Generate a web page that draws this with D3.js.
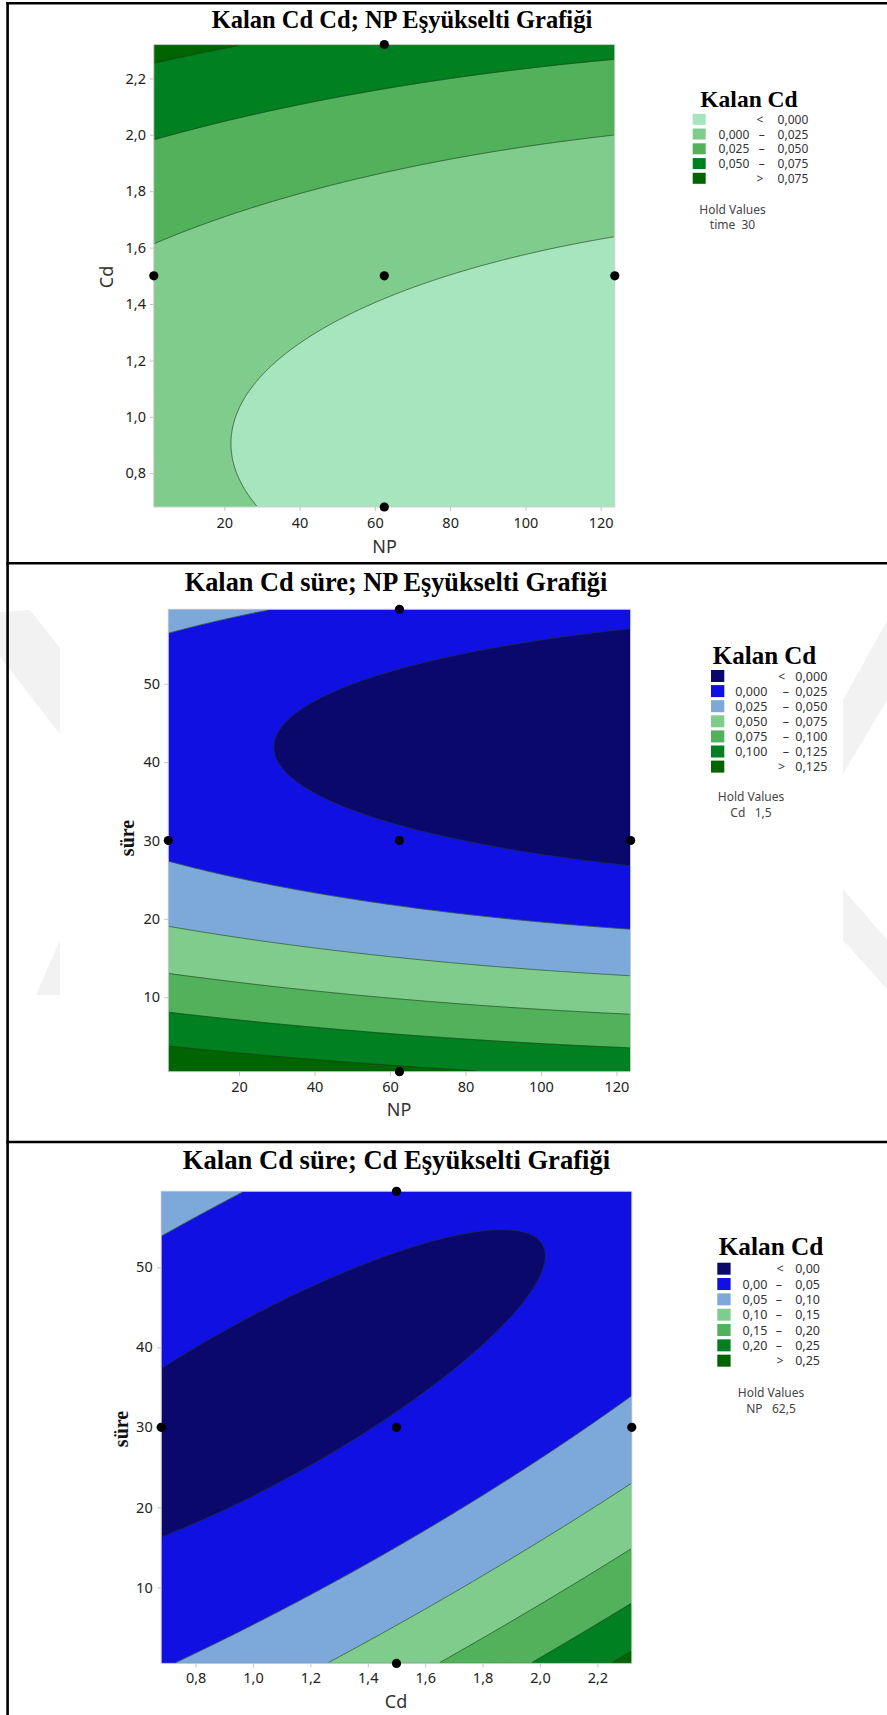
<!DOCTYPE html>
<html><head><meta charset="utf-8">
<script src="https://cdn.jsdelivr.net/npm/d3@7"></script>
<style>body{margin:0;background:#fff} svg{display:block}</style>
</head><body>
<svg id="c" width="887" height="1715"></svg>
<script>
// ---------- DATA ----------
// Fitted quadratic response-surface model for "Kalan Cd" (coded factors, -1..+1)
const factorNames      = ["NP", "Cd", "süre"];
const factorCenters    = [62.5, 1.5, 30];
const factorHalfRanges = [61.25, 0.82, 29.5];
const modelTerms = ["sabit", "NP", "Cd", "süre", "NP²", "Cd²", "süre²", "NP·Cd", "NP·süre", "Cd·süre"];
const modelCoefs = [0.0034, -0.0132, 0.037, -0.0565, 0.0028, 0.0255, 0.070, 0.0, 0.0, -0.0716];

const npDomain   = [1.25, 123.75];
const cdDomain   = [0.68, 2.32];
const sureDomain = [0.5, 59.5];

const npTicks   = [20, 40, 60, 80, 100, 120];
const cdTicks   = [0.8, 1.0, 1.2, 1.4, 1.6, 1.8, 2.0, 2.2];
const sureTicks = [10, 20, 30, 40, 50];

const levels1 = [0, 0.025, 0.05, 0.075];
const colors1 = ["#a6e5bd", "#80cc8c", "#52b15b", "#008020", "#006400"];
const labels1 = [["", "<", "0,000"], ["0,000", "–", "0,025"], ["0,025", "–", "0,050"], ["0,050", "–", "0,075"], ["", ">", "0,075"]];

const levels2 = [0, 0.025, 0.05, 0.075, 0.1, 0.125];
const colors2 = ["#0b086c", "#1010e2", "#7da8da", "#80cc8c", "#52b15b", "#008020", "#006400"];
const labels2 = [["", "<", "0,000"], ["0,000", "–", "0,025"], ["0,025", "–", "0,050"], ["0,050", "–", "0,075"], ["0,075", "–", "0,100"], ["0,100", "–", "0,125"], ["", ">", "0,125"]];

const levels3 = [0, 0.05, 0.1, 0.15, 0.2, 0.25];
const colors3 = ["#0b086c", "#1010e2", "#7da8da", "#80cc8c", "#52b15b", "#008020", "#006400"];
const labels3 = [["", "<", "0,00"], ["0,00", "–", "0,05"], ["0,05", "–", "0,10"], ["0,10", "–", "0,15"], ["0,15", "–", "0,20"], ["0,20", "–", "0,25"], ["", ">", "0,25"]];

const points1 = [[62.5, 2.32], [1.25, 1.5], [62.5, 1.5], [123.75, 1.5], [62.5, 0.68]];
const points2 = [[62.5, 59.5], [1.25, 30], [62.5, 30], [123.75, 30], [62.5, 0.5]];
const points3 = [[1.5, 59.5], [0.68, 30], [1.5, 30], [2.32, 30], [1.5, 0.5]];

const titles = ["Kalan Cd Cd; NP Eşyükselti Grafiği", "Kalan Cd süre; NP Eşyükselti Grafiği", "Kalan Cd süre; Cd Eşyükselti Grafiği"];
const holdLines = [["Hold Values", "time  30"], ["Hold Values", "Cd   1,5"], ["Hold Values", "NP   62,5"]];

// ---------- MODEL ----------
function model(np, cd, t) {
  const u = (np - factorCenters[0]) / factorHalfRanges[0];
  const v = (cd - factorCenters[1]) / factorHalfRanges[1];
  const w = (t - factorCenters[2]) / factorHalfRanges[2];
  const x = [1, u, v, w, u*u, v*v, w*w, u*v, u*w, v*w];
  return d3.sum(x, (xi, i) => xi * modelCoefs[i]);
}

const svg = d3.select("#c");
const fmtComma = d => d3.format(".1f")(d).replace(".", ",");
const fmtInt = d => String(d);
const SANS = "'Noto Sans', 'Open Sans', sans-serif";
const SERIF = "'Liberation Serif', 'DejaVu Serif', serif";

// ---------- WATERMARK ----------
const wm = svg.append("g").attr("fill", "#f2f2f2");
[
  [[0,612],[30,610],[60,648],[60,734],[0,657]],
  [[60,940],[60,995],[36,995]],
  [[843,700],[887,621],[887,700],[843,774]],
  [[843,889],[887,940],[887,989],[843,940]]
].forEach(p => wm.append("path").attr("d", d3.line()(p) + "Z"));

// ---------- BORDERS ----------
const bd = svg.append("g").attr("stroke", "#000").attr("stroke-width", 2.6);
bd.append("line").attr("x1", 7.6).attr("x2", 7.6).attr("y1", 2).attr("y2", 1715);
bd.append("line").attr("x1", 6.3).attr("x2", 887).attr("y1", 3.2).attr("y2", 3.2);
bd.append("line").attr("x1", 6.3).attr("x2", 887).attr("y1", 563.2).attr("y2", 563.2);
bd.append("line").attr("x1", 6.3).attr("x2", 887).attr("y1", 1142).attr("y2", 1142);

// ---------- PANELS ----------
const panels = [
  { id: 0, x0: 153.8, x1: 614.8, y0: 44.6, y1: 507,
    xDomain: npDomain, yDomain: cdDomain, fn: (a, b) => model(a, b, 30),
    xTicks: npTicks, yTicks: cdTicks, xFmt: fmtInt, yFmt: fmtComma,
    levels: levels1, colors: colors1, labels: labels1, points: points1,
    title: titles[0], titleX: 402, titleY: 28, titleSize: 24.5,
    xLabel: "NP", xLabelX: 384.6, xLabelY: 552.5, yLabel: "Cd", yLabelX: 106, yLabelY: 277, yLabelSerif: false,
    xPad: 6.9, yPad: 3.8,
    lg: { tx: 749, ty: 106.7, ts: 23.5, sx: 692.7, sw: 13, sh: 11, ry: 119.3, rp: 14.75,
          lowEnd: 749.3, dash: 761.7, upEnd: 808.3, lt: 760, fs: 12, hx: 732.5, hy: [214, 229] },
    hold: holdLines[0] },
  { id: 1, x0: 168.3, x1: 630.6, y0: 609.3, y1: 1071.7,
    xDomain: npDomain, yDomain: sureDomain, fn: (a, b) => model(a, 1.5, b),
    xTicks: npTicks, yTicks: sureTicks, xFmt: fmtInt, yFmt: fmtInt,
    levels: levels2, colors: colors2, labels: labels2, points: points2,
    title: titles[1], titleX: 396, titleY: 591, titleSize: 26.3,
    xLabel: "NP", xLabelX: 399, xLabelY: 1115.5, yLabel: "süre", yLabelX: 127, yLabelY: 838, yLabelSerif: true,
    xPad: 6, yPad: 4.3,
    lg: { tx: 764.5, ty: 664.3, ts: 25, sx: 711, sw: 13.3, sh: 12, ry: 676, rp: 15.1,
          lowEnd: 767.3, dash: 786, upEnd: 827.3, lt: 781.7, fs: 12.5, hx: 751, hy: [801, 817] },
    hold: holdLines[1] },
  { id: 2, x0: 161.2, x1: 631.8, y0: 1191.3, y1: 1663.4,
    xDomain: cdDomain, yDomain: sureDomain, fn: (a, b) => model(62.5, a, b),
    xTicks: cdTicks, yTicks: sureTicks, xFmt: fmtComma, yFmt: fmtInt,
    levels: levels3, colors: colors3, labels: labels3, points: points3,
    title: titles[2], titleX: 396.5, titleY: 1169, titleSize: 26.6,
    xLabel: "Cd", xLabelX: 396, xLabelY: 1707.5, yLabel: "süre", yLabelX: 120.5, yLabelY: 1429, yLabelSerif: true,
    xPad: 5.5, yPad: 4.5,
    lg: { tx: 771, ty: 1255, ts: 25.3, sx: 717.3, sw: 13.3, sh: 12, ry: 1268.7, rp: 15.33,
          lowEnd: 767.3, dash: 779, upEnd: 820, lt: 780, fs: 12.5, hx: 771, hy: [1397, 1413] },
    hold: holdLines[2] }
];

panels.forEach(drawPanel);

function drawPanel(c) {
  const g = svg.append("g");
  const W = c.x1 - c.x0, H = c.y1 - c.y0;
  const x = d3.scaleLinear().domain(c.xDomain).range([c.x0, c.x1]);
  const y = d3.scaleLinear().domain(c.yDomain).range([c.y1, c.y0]);

  // grid of model values
  const n = 240, m = 240;
  const vals = new Array(n * m);
  for (let j = 0; j < m; j++) {
    const yv = y.invert(c.y0 + (j + 0.5) / m * H);
    for (let i = 0; i < n; i++) {
      const xv = x.invert(c.x0 + (i + 0.5) / n * W);
      vals[j * n + i] = c.fn(xv, yv);
    }
  }
  const lo = d3.min(vals) - 1;
  const thr = [lo].concat(c.levels);
  const contours = d3.contours().size([n, m]).thresholds(thr)(vals);
  const path = d3.geoPath(d3.geoTransform({
    point(px, py) { this.stream.point(c.x0 + px * W / n, c.y0 + py * H / m); }
  }));

  const clipId = "clip" + c.id, clipIn = "clipin" + c.id;
  const defs = svg.append("defs");
  defs.append("clipPath").attr("id", clipId).append("rect")
    .attr("x", c.x0).attr("y", c.y0).attr("width", W).attr("height", H);
  defs.append("clipPath").attr("id", clipIn).append("rect")
    .attr("x", c.x0 + 1).attr("y", c.y0 + 1).attr("width", W - 2).attr("height", H - 2);

  g.append("g").attr("clip-path", `url(#${clipId})`)
    .selectAll("path").data(contours).join("path")
    .attr("d", path).attr("fill", (d, i) => c.colors[i]).attr("stroke", (d, i) => c.colors[i]).attr("stroke-width", 0.4);

  g.append("g").attr("clip-path", `url(#${clipIn})`)
    .selectAll("path").data(contours.slice(1)).join("path")
    .attr("d", path).attr("fill", "none").attr("stroke", "#1c3a1c").attr("stroke-opacity", 0.75).attr("stroke-width", 0.8);

  // frame
  g.append("rect").attr("x", c.x0).attr("y", c.y0).attr("width", W).attr("height", H)
    .attr("fill", "none").attr("stroke", "#cfcfcf").attr("stroke-width", 1);

  // axes
  const ax = g.append("g").attr("transform", `translate(0,${c.y1})`)
    .call(d3.axisBottom(x).tickValues(c.xTicks).tickFormat(c.xFmt).tickSize(4).tickPadding(c.xPad));
  const ay = g.append("g").attr("transform", `translate(${c.x0},0)`)
    .call(d3.axisLeft(y).tickValues(c.yTicks).tickFormat(c.yFmt).tickSize(4).tickPadding(c.yPad));
  [ax, ay].forEach(a => {
    a.select(".domain").remove();
    a.selectAll(".tick line").attr("stroke", "#c4c4c4");
    a.selectAll(".tick text").attr("fill", "#222").style("font-family", SANS).style("font-size", "14.5px");
  });

  // titles & labels
  g.append("text").attr("x", c.titleX).attr("y", c.titleY).attr("text-anchor", "middle")
    .style("font-family", SERIF).style("font-weight", "bold").style("font-size", c.titleSize + "px")
    .attr("fill", "#000").text(c.title);
  g.append("text").attr("x", c.xLabelX).attr("y", c.xLabelY).attr("text-anchor", "middle")
    .style("font-family", SANS).style("font-size", "18px").attr("fill", "#333").text(c.xLabel);
  g.append("text").attr("transform", `translate(${c.yLabelX},${c.yLabelY}) rotate(-90)`)
    .attr("text-anchor", "middle").attr("dominant-baseline", "central")
    .style("font-family", c.yLabelSerif ? SERIF : SANS)
    .style("font-weight", c.yLabelSerif ? "bold" : "normal")
    .style("font-size", c.yLabelSerif ? "20px" : "18px")
    .attr("fill", c.yLabelSerif ? "#111" : "#333").text(c.yLabel);

  // design points
  g.append("g").selectAll("circle").data(c.points).join("circle")
    .attr("cx", d => x(d[0])).attr("cy", d => y(d[1])).attr("r", 4.6).attr("fill", "#000");

  // legend
  const L = c.lg;
  const lg = g.append("g");
  lg.append("text").attr("x", L.tx).attr("y", L.ty).attr("text-anchor", "middle")
    .style("font-family", SERIF).style("font-weight", "bold").style("font-size", L.ts + "px")
    .attr("fill", "#000").text("Kalan Cd");
  const rows = lg.selectAll("g.row").data(c.labels).join("g").attr("class", "row")
    .attr("transform", (d, i) => `translate(0,${L.ry + i * L.rp})`);
  rows.append("rect").attr("x", L.sx).attr("y", -L.sh / 2).attr("width", L.sw).attr("height", L.sh)
    .attr("fill", (d, i) => c.colors[i]);
  const ts = sel => sel.style("font-family", SANS).style("font-size", L.fs + "px").attr("fill", "#333")
    .attr("dominant-baseline", "central");
  rows.append("text").attr("x", L.lowEnd).attr("text-anchor", "end").call(ts).text(d => d[0]);
  rows.append("text").attr("x", d => d[1] === "–" ? L.dash : L.lt).attr("text-anchor", "middle").call(ts).text(d => d[1]);
  rows.append("text").attr("x", L.upEnd).attr("text-anchor", "end").call(ts).text(d => d[2]);
  c.hold.forEach((t, i) => {
    lg.append("text").attr("x", L.hx).attr("y", L.hy[i]).attr("text-anchor", "middle")
      .style("font-family", SANS).style("font-size", "12px").attr("fill", "#444")
      .style("white-space", "pre").attr("xml:space", "preserve").text(t);
  });
}
</script>
</body></html>
